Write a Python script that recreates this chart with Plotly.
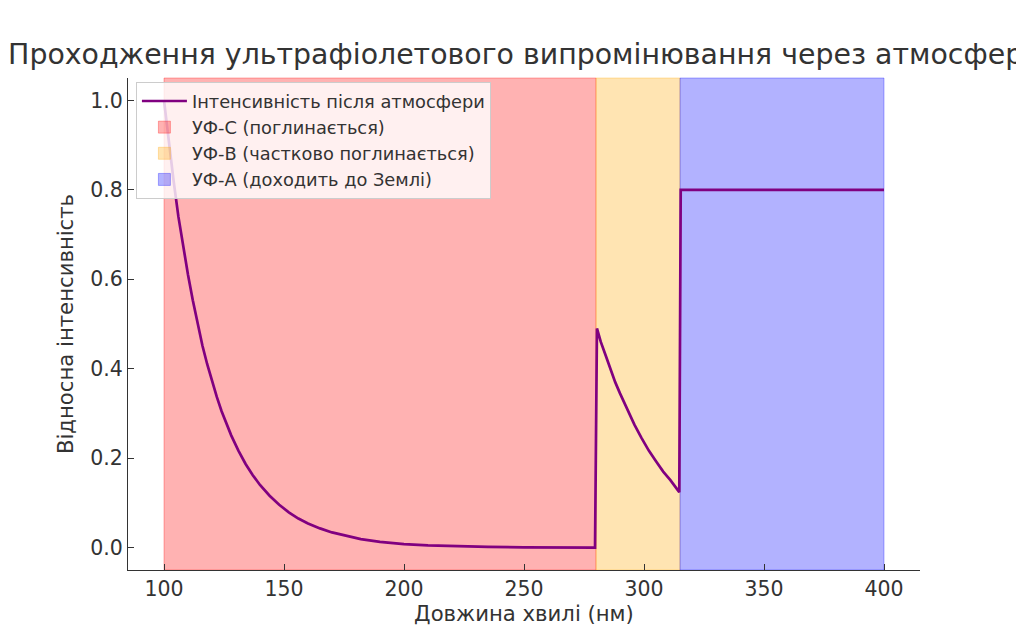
import plotly.graph_objects as go

# wavelength (nm) and relative intensity
uvc_nm = [100, 102, 104, 106, 108, 110, 112, 114, 116, 118, 120, 122, 124, 126, 128,
          131, 134, 137, 140, 144, 148, 152, 156, 160, 165, 170, 176, 182, 190, 200,
          210, 222, 235, 250, 265, 279.6]
uvc_val = [1.0, 0.905, 0.82, 0.74, 0.672, 0.61, 0.553, 0.50, 0.452, 0.41, 0.372,
           0.337, 0.305, 0.277, 0.251, 0.217, 0.187, 0.162, 0.14, 0.116, 0.096,
           0.079, 0.065, 0.054, 0.043, 0.034, 0.026, 0.019, 0.013, 0.008, 0.005,
           0.003, 0.0015, 0.0007, 0.0003, 0.0001]
uvb_nm = [280.4, 282, 284, 286, 288, 290, 293, 296, 299, 302, 305, 308, 311, 314.7]
uvb_val = [0.49, 0.46, 0.43, 0.40, 0.37, 0.345, 0.31, 0.275, 0.245, 0.217, 0.193,
           0.17, 0.151, 0.124]
uva_nm = [315.3, 400]
uva_val = [0.80, 0.80]

bands = ["УФ-C (поглинається)", "УФ-B (частково поглинається)", "УФ-A (доходить до Землі)"]
band_edges = [(100, 280), (280, 315), (315, 400)]
band_colors = ["rgba(255,0,0,0.3)", "rgba(255,165,0,0.3)", "rgba(0,0,255,0.3)"]

x_ticks = [100, 150, 200, 250, 300, 350, 400]
y_ticks = [0.0, 0.2, 0.4, 0.6, 0.8, 1.0]

txt = "#333333"

fig = go.Figure()
fig.add_trace(go.Scatter(x=uvc_nm + uvb_nm + uva_nm, y=uvc_val + uvb_val + uva_val,
                         mode="lines", line=dict(color="purple", width=2.7),
                         name="Інтенсивність після атмосфери"))

for name, (a, b), col in zip(bands, band_edges, band_colors):
    fig.add_vrect(x0=a, x1=b, fillcolor=col, line=dict(color=col, width=1),
                  layer="below", name=name, showlegend=True)

# the page body has an 8px margin, so the margins are shifted to compensate
fig.update_layout(
    width=1024, height=640,
    paper_bgcolor="white", plot_bgcolor="white",
    margin=dict(l=120, r=112, t=70, b=78),
    font=dict(family="DejaVu Sans", color=txt, size=20.5),
    title=dict(text="Проходження ультрафіолетового випромінювання через атмосферу",
               x=0.5, xref="paper", xanchor="center",
               y=1 - 46 / 640, yref="container", yanchor="middle",
               font=dict(size=28.4, color=txt)),
    legend=dict(x=0.010, y=0.992, xanchor="left", yanchor="top",
                bgcolor="rgba(255,255,255,0.8)", bordercolor="#cccccc", borderwidth=1,
                itemwidth=45, font=dict(size=17.8, color=txt)),
)
fig.update_xaxes(range=[85, 415], tickvals=x_ticks, showgrid=False, zeroline=False,
                 showline=True, linecolor=txt, linewidth=1.3, ticks="inside",
                 ticklen=6, tickcolor=txt, automargin=False,
                 title=dict(text="Довжина хвилі (нм)", standoff=6,
                            font=dict(size=21.2)))
fig.update_yaxes(range=[-0.05, 1.05], tickvals=y_ticks, tickformat=".1f",
                 showgrid=False, zeroline=False,
                 showline=True, linecolor=txt, linewidth=1.3, ticks="inside",
                 ticklen=6, tickcolor=txt, automargin=False,
                 title=dict(text="Відносна інтенсивність", standoff=10,
                            font=dict(size=21.2)))

fig.write_html("out.html")
